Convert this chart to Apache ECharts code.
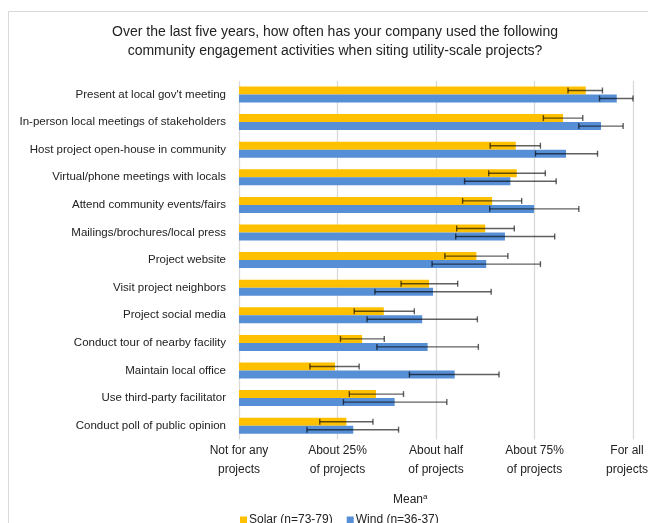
<!DOCTYPE html>
<html><head><meta charset="utf-8">
<script src="https://cdn.jsdelivr.net/npm/echarts@6/dist/echarts.min.js"></script>
<style>html,body{margin:0;padding:0;background:#fff}#c{width:648px;height:523px}</style>
</head><body><div id="c"></div>
<script>
const categories = ["Present at local gov't meeting","In-person local meetings of stakeholders","Host project open-house in community","Virtual/phone meetings with locals","Attend community events/fairs","Mailings/brochures/local press","Project website","Visit project neighbors","Project social media","Conduct tour of nearby facility","Maintain local office","Use third-party facilitator","Conduct poll of public opinion"];
const tickLabels = ["Not for any\nprojects","About 25%\nof projects","About half\nof projects","About 75%\nof projects","For all\nprojects"];
const solarMean = [3.52,3.29,2.81,2.82,2.57,2.50,2.41,1.93,1.47,1.25,0.975,1.39,1.09];
const solarLow  = [3.34,3.09,2.55,2.535,2.27,2.21,2.09,1.645,1.17,1.03,0.72,1.12,0.82];
const solarHigh = [3.69,3.49,3.06,3.11,2.87,2.795,2.73,2.22,1.78,1.475,1.22,1.67,1.36];
const windMean  = [3.835,3.675,3.32,2.755,2.995,2.70,2.51,1.97,1.86,1.915,2.19,1.58,1.16];
const windLow   = [3.66,3.45,3.01,2.29,2.545,2.20,1.96,1.38,1.30,1.40,1.73,1.06,0.69];
const windHigh  = [4.0,3.90,3.64,3.22,3.45,3.205,3.06,2.56,2.42,2.43,2.64,2.11,1.62];

const chart = echarts.init(document.getElementById('c'));
function errSeries(low, high, off) {
  return {
    type: 'custom',
    data: categories.map((c, i) => [i, low[i], high[i]]),
    encode: { x: [1, 2], y: 0 },
    z: 10,
    silent: true,
    renderItem: function (params, api) {
      const i = api.value(0);
      const p1 = api.coord([api.value(1), i]);
      const p2 = api.coord([api.value(2), i]);
      const y = p1[1] + off;
      const h = 3;
      const style = { stroke: 'rgba(0,0,0,0.62)', lineWidth: 1.4 };
      return { type: 'group', children: [
        { type: 'line', shape: { x1: p1[0], y1: y, x2: p2[0], y2: y }, style: style },
        { type: 'line', shape: { x1: p1[0], y1: y - h, x2: p1[0], y2: y + h }, style: style },
        { type: 'line', shape: { x1: p2[0], y1: y - h, x2: p2[0], y2: y + h }, style: style }
      ]};
    }
  };
}
chart.setOption({
  animation: false,
  textStyle: { fontFamily: 'Liberation Sans, Arial, sans-serif' },
  title: {
    text: 'Over the last five years, how often has your company used the following\ncommunity engagement activities when siting utility-scale projects?',
    left: 330, top: 18, textAlign: 'center',
    textStyle: { fontSize: 14, fontWeight: 'normal', color: '#222', lineHeight: 19, fontFamily: 'Liberation Sans, Arial, sans-serif' }
  },
  graphic: [
    { type: 'rect', shape: { x: 8.5, y: 11.5, width: 700, height: 600 }, style: { fill: 'none', stroke: '#d9d9d9', lineWidth: 1 }, z: -1 },
    { type: 'text', left: 393, top: 493, style: { text: '{a|Mean}{s|a}', rich: { a: { fontSize: 12, fill: '#222', fontFamily: 'Liberation Sans, Arial, sans-serif' }, s: { fontSize: 8, fill: '#222', verticalAlign: 'top', padding: [0,0,6,0], fontFamily: 'Liberation Sans, Arial, sans-serif' } } } }
  ],
  legend: {
    left: 235, top: 509, itemWidth: 7, itemHeight: 7, itemGap: 14, icon: 'rect',
    textStyle: { fontSize: 12, color: '#222', padding: [0,0,0,-3] },
    data: ['Solar (n=73-79)', 'Wind (n=36-37)']
  },
  grid: { left: 239, right: 15, top: 80.7, bottom: 83.5, containLabel: false, outerBoundsMode: 'none' },
  xAxis: {
    type: 'value', min: 0, max: 4, interval: 1,
    axisLine: { show: false }, axisTick: { show: false },
    splitLine: { show: true, lineStyle: { color: '#d9d9d9', width: 1.3 } },
    axisLabel: {
      formatter: v => {
        const parts = tickLabels[v].split('\n');
        const key = v === 4 ? 'e' : 'n';
        return parts.map(p => '{' + key + '|' + p + '}').join('\n');
      },
      rich: {
        n: { fontSize: 12, color: '#222', lineHeight: 19, align: 'center' },
        e: { fontSize: 12, color: '#222', lineHeight: 19, align: 'center', padding: [0, 12, 0, 0] }
      },
      fontSize: 12, color: '#222', lineHeight: 19, margin: 2
    }
  },
  yAxis: {
    type: 'category', data: categories, inverse: true,
    axisLine: { show: false }, axisTick: { show: false },
    axisLabel: { fontSize: 11.5, color: '#222', margin: 13 }
  },
  series: [
    { name: 'Solar (n=73-79)', type: 'bar', data: solarMean, barWidth: 8, barGap: '0%', itemStyle: { color: '#FFC000' } },
    { name: 'Wind (n=36-37)', type: 'bar', data: windMean, barWidth: 8, barGap: '0%', itemStyle: { color: '#578FD6' } },
    errSeries(solarLow, solarHigh, -4),
    errSeries(windLow, windHigh, 4)
  ]
});
</script></body></html>
